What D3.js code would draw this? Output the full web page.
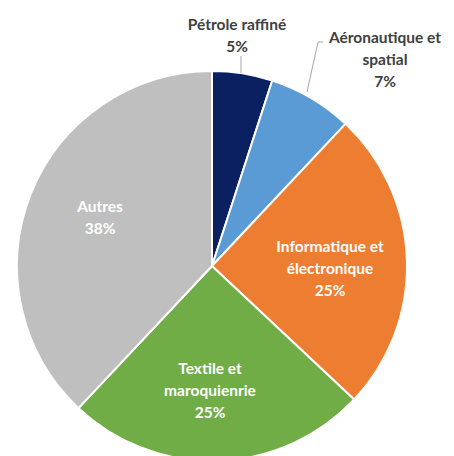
<!DOCTYPE html>
<html><head><meta charset="utf-8">
<script src="https://cdn.jsdelivr.net/npm/d3@7"></script>
<style>body{margin:0;background:#fff}svg{display:block}</style>
</head><body>
<script>
const categories = ["Pétrole raffiné", "Aéronautique et spatial", "Informatique et électronique", "Textile et maroquienrie", "Autres"];
const values = [5, 7, 25, 25, 38];
const labelLines = [["Pétrole raffiné"], ["Aéronautique et", "spatial"], ["Informatique et", "électronique"], ["Textile et", "maroquienrie"], ["Autres"]];
const colors = ["#0b2060", "#5b9bd5", "#ed7d31", "#70ad47", "#bfbfbf"];

const W = 454, H = 456, cx = 212, cy = 266, R = 195;
const svg = d3.select("body").append("svg").attr("width", W).attr("height", H);
const g = svg.append("g").attr("transform", `translate(${cx},${cy})`);
const pie = d3.pie().sort(null).value(d => d)(values);
const arc = d3.arc().innerRadius(0).outerRadius(R);

g.selectAll("path").data(pie).enter().append("path")
  .attr("d", arc).attr("fill", (d, i) => colors[i])
  .attr("stroke", "#fff").attr("stroke-width", 2).attr("stroke-linejoin", "round");

const font = "Lato, 'Open Sans', sans-serif";
// label centre positions (layout)
const labelPos = [[237, 35], [385, 59], [330, 268], [210, 390], [100, 217]];
const lh = 22;
pie.forEach((d, i) => {
  const lines = labelLines[i].concat([values[i] + "%"]);
  const [x, y] = labelPos[i];
  const fill = i >= 2 ? "#fff" : "#404040";
  const t = svg.append("text").attr("text-anchor", "middle").attr("font-family", font)
    .attr("font-weight", "bold").attr("font-size", 15.5).attr("fill", fill);
  const n = lines.length;
  lines.forEach((l, k) => {
    t.append("tspan").attr("x", x).attr("y", y + (k - (n - 1) / 2) * lh + 5.5).text(l);
  });
});

// leader lines
svg.append("line").attr("x1", 241).attr("y1", 56).attr("x2", 241).attr("y2", cy - R + 2)
  .attr("stroke", "#a6a6a6").attr("stroke-width", 1);
svg.append("polyline")
  .attr("points", [[323, 42], [318, 42], [307, 92]].map(p => p.join(",")).join(" "))
  .attr("fill", "none").attr("stroke", "#a6a6a6").attr("stroke-width", 1);
</script>
</body></html>
